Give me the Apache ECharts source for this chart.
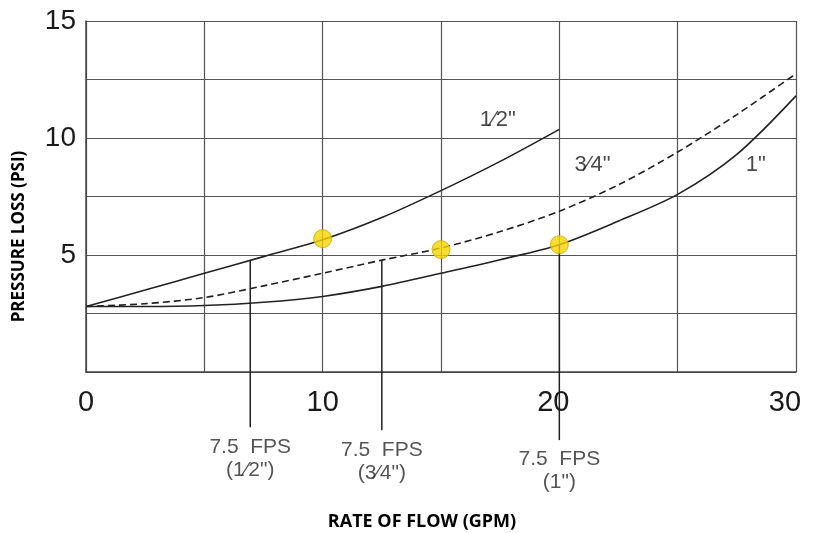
<!DOCTYPE html>
<html><head><meta charset="utf-8">
<script src="https://cdn.jsdelivr.net/npm/echarts@6/dist/echarts.min.js"></script>
<style>html,body{margin:0;padding:0;background:#fff}#c{width:819px;height:533px}</style>
</head><body><div id="c"></div>
<script>
// ---- data ----
const flow = [0, 2.5, 5, 7.5, 10, 12.5, 15, 17.5, 20, 22.5, 25, 27.5, 30];
const loss12 = [2.8, 3.5, 4.22, 4.93, 5.65, 6.6, 7.75, 9.0, 10.37];           // 1/2" (0..20 GPM)
const loss34 = [2.8, 2.92, 3.18, 3.68, 4.22, 4.78, 5.3, 6.0, 6.87, 8.0, 9.4, 11.0, 12.75]; // 3/4"
const loss1  = [2.8, 2.8, 2.84, 2.98, 3.23, 3.66, 4.22, 4.8, 5.44, 6.45, 7.59, 9.3, 11.8]; // 1"
const dotFlow = [10, 15, 20];
const dotLoss = [5.7, 5.23, 5.44];
const fpsFlow = [6.94, 12.5, 20];
const fpsTop = [4.75, 4.78, 5.44];
const fpsBottom = [-2.36, -2.49, -2.91];
const fpsLabels = ['7.5  FPS\n(1\u20442")', '7.5  FPS\n(3\u20444")', '7.5  FPS\n(1")'];
const curveNames = ['1\u20442"', '3\u20444"', '1"'];
const curveNameFlow = [17.4, 21.4, 28.3];
const curveNameLoss = [10.76, 8.83, 8.87];
const xTickLabels = [0, 10, 20, 30];
const yTickLabels = [5, 10, 15];

const NUM = "'Liberation Sans Narrow','Liberation Sans',Arial,sans-serif";
const BOLD = "'Open Sans','Noto Sans',sans-serif";
const INK = '#222';

function pairs(xs, ys) { return ys.map((v, i) => [xs[i], v]); }

const series = [
  { type: 'line', data: pairs(flow, loss12), smooth: 0.3, symbol: 'none', lineStyle: { color: INK, width: 1.6 }, z: 3 },
  { type: 'line', data: pairs(flow, loss34), smooth: 0.3, symbol: 'none', lineStyle: { color: INK, width: 1.6, type: [7, 4] }, z: 3 },
  { type: 'line', data: pairs(flow, loss1), smooth: 0.3, symbol: 'none', lineStyle: { color: INK, width: 1.6 }, z: 3 }
];
fpsFlow.forEach((x, i) => {
  series.push({ type: 'line', data: [[x, fpsTop[i]], [x, fpsBottom[i]]], symbol: 'none', clip: false,
    lineStyle: { color: INK, width: 1.5 }, z: 2 });
});
series.push({
  type: 'scatter', clip: false, symbolSize: 0, z: 4,
  data: fpsFlow.map((x, i) => ({ value: [x, fpsBottom[i]], label: { formatter: fpsLabels[i] } })),
  label: { show: true, position: 'bottom', distance: 8, fontFamily: NUM, fontSize: 21, lineHeight: 23, color: '#2a2a2a', align: 'center' }
});
series.push({
  type: 'scatter', clip: false, symbolSize: 0, z: 4,
  data: curveNameFlow.map((x, i) => ({ value: [x, curveNameLoss[i]], label: { formatter: curveNames[i] } })),
  label: { show: true, position: 'inside', fontFamily: NUM, fontSize: 22, color: '#1a1a1a' }
});
series.push({
  type: 'scatter', z: 6, symbolSize: 18,
  data: pairs(dotFlow, dotLoss),
  itemStyle: { color: '#F7D500', borderColor: '#C8A700', borderWidth: 1 }
});

const chart = echarts.init(document.getElementById('c'), null, { renderer: 'canvas' });
chart.setOption({
  animation: false,
  backgroundColor: '#fff',
  grid: { left: 86, right: 23, top: 21, bottom: 161, containLabel: false, outerBoundsMode: 'none' },
  xAxis: {
    type: 'value', min: 0, max: 30, interval: 5,
    axisLine: { show: true, lineStyle: { color: '#444', width: 1.5 } },
    axisTick: { show: false },
    splitLine: { show: true, lineStyle: { color: '#555', width: 1.2 } },
    axisLabel: {
      fontFamily: NUM, fontSize: 29, color: '#1a1a1a', margin: 16, hideOverlap: false,
      formatter: v => xTickLabels.includes(v) ? (v === 30 ? '{r30|30}' : v === 20 ? '{r20|20}' : String(v)) : '',
      rich: {
        r30: { fontFamily: NUM, fontSize: 29, color: '#1a1a1a', padding: [0, 22, 0, 0] },
        r20: { fontFamily: NUM, fontSize: 29, color: '#1a1a1a', padding: [0, 12, 0, 0] }
      }
    },
    name: 'RATE OF FLOW (GPM)', nameLocation: 'middle', nameGap: 141,
    nameTextStyle: { fontFamily: BOLD, fontWeight: 'bold', fontSize: 18, color: '#000', padding: [0, 38, 0, 0] }
  },
  yAxis: {
    type: 'value', min: 0, max: 15, interval: 2.5,
    axisLine: { show: true, lineStyle: { color: '#444', width: 1.5 } },
    axisTick: { show: false },
    splitLine: { show: true, lineStyle: { color: '#555', width: 1.2 } },
    axisLabel: {
      fontFamily: NUM, fontSize: 28, color: '#1a1a1a', margin: 10,
      formatter: v => yTickLabels.includes(v) ? String(v) : ''
    },
    name: 'PRESSURE LOSS (PSI)', nameLocation: 'middle', nameGap: 58, nameRotate: 90,
    nameTextStyle: { fontFamily: BOLD, fontWeight: 'bold', fontSize: 17, color: '#000', padding: [0, 80, 0, 0] }
  },
  series: series
});
</script></body></html>
